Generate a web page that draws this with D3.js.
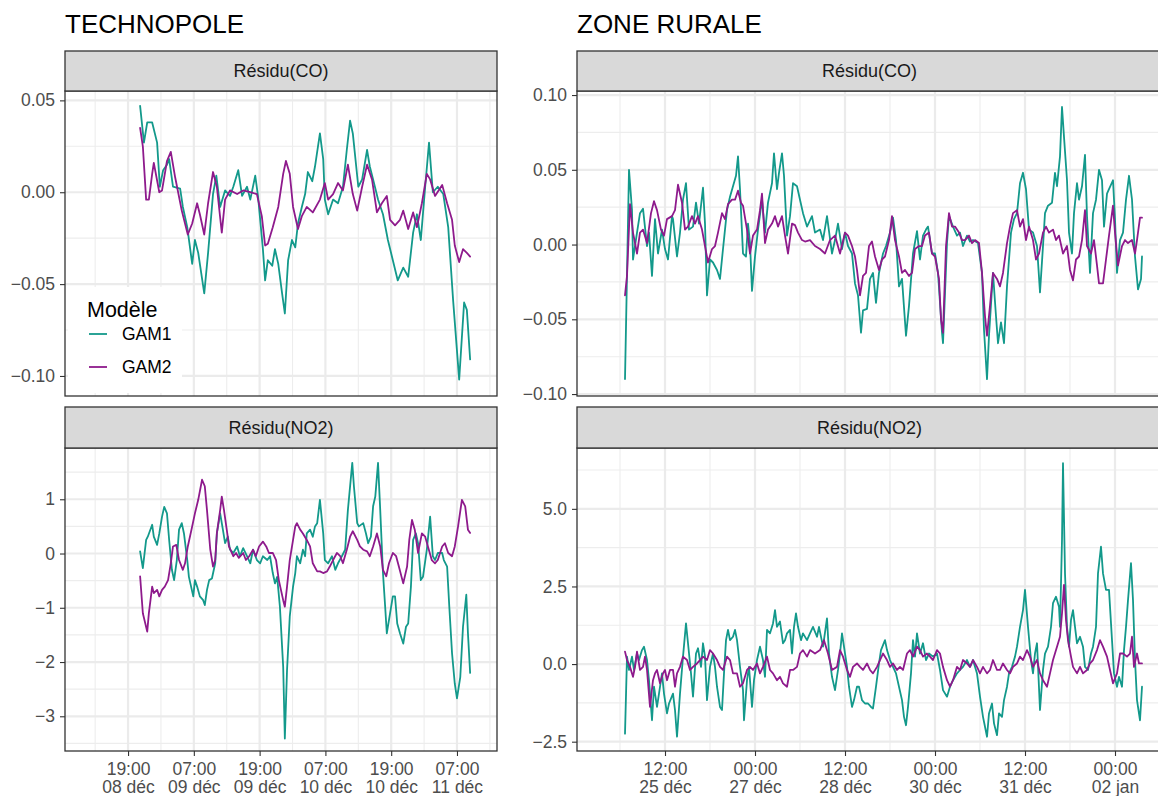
<!DOCTYPE html>
<html><head><meta charset="utf-8">
<script src="https://cdn.jsdelivr.net/npm/d3@7"></script>
<style>body{margin:0;background:#fff}svg{display:block}</style>
</head><body><svg id="chart"></svg>
<script>
// ---------------- DATA ----------------
const models = ["GAM1", "GAM2"];
const stripLabels = ["Résidu(CO)", "Résidu(NO2)"];
const siteTitles = ["TECHNOPOLE", "ZONE RURALE"];

// TECHNOPOLE : time in hours after techBase
const techBase = "2021-12-08T19:00";
const techDomain = ["2021-12-08T07:30", "2021-12-11T14:18"];
const techXTicks = ["2021-12-08T19:00","2021-12-09T07:00","2021-12-09T19:00","2021-12-10T07:00","2021-12-10T19:00","2021-12-11T07:00"];
const techXMinor = ["2021-12-08T13:00","2021-12-09T01:00","2021-12-09T13:00","2021-12-10T01:00","2021-12-10T13:00","2021-12-11T01:00","2021-12-11T13:00"];
const techXLab1 = ["19:00","07:00","19:00","07:00","19:00","07:00"];
const techXLab2 = ["08 déc","09 déc","09 déc","10 déc","10 déc","11 déc"];

const techCODomain = [-0.1109, 0.0551];
const techCOTicks = [-0.10, -0.05, 0.00, 0.05];
const techCOMinor = [-0.075, -0.025, 0.025];
const techNO2Domain = [-3.64, 1.945];
const techNO2Ticks = [-3, -2, -1, 0, 1];
const techNO2Minor = [-3.5, -2.5, -1.5, -0.5, 0.5, 1.5];

const techCO_g1_t = [2.2,2.9,3.5,4.4,5.3,5.8,6.4,7.1,7.5,8.2,9.5,10.0,10.8,11.7,12.2,12.8,13.9,14.6,15.5,16.1,16.8,17.7,18.6,19.2,20.1,20.8,21.7,22.3,23.2,23.7,24.6,25.0,25.5,26.3,26.8,27.4,28.1,28.6,29.2,29.9,30.5,31.0,31.7,32.3,32.8,33.6,34.1,35.0,35.6,35.9,36.5,37.4,38.3,39.2,39.9,40.5,41.0,42.0,42.7,43.6,44.1,44.7,45.6,46.5,47.4,48.3,49.2,50.2,51.1,52.0,52.7,53.4,54.2,54.9,55.6,56.5,57.5,58.4,59.3,60.4,61.3,61.8,62.4];
const techCO_g1 = [0.047,0.027,0.038,0.038,0.027,0.003,0.012,0.015,0.018,0.003,0.002,-0.008,-0.019,-0.039,-0.026,-0.033,-0.055,-0.033,-0.001,0.009,-0.008,0.001,-0.002,0.003,0.012,-0.002,0.003,-0.004,0.009,-0.002,-0.031,-0.048,-0.037,-0.040,-0.031,-0.039,-0.055,-0.066,-0.037,-0.026,-0.030,-0.017,-0.008,-0.001,0.011,0.006,0.014,0.032,0.018,-0.004,-0.012,-0.004,-0.006,0.003,0.023,0.039,0.032,0.003,0.007,0.023,0.014,0.007,-0.004,-0.012,-0.026,-0.037,-0.048,-0.041,-0.046,-0.022,-0.012,-0.026,0.003,0.027,0.000,0.003,-0.001,-0.019,-0.059,-0.102,-0.060,-0.064,-0.091];
const techCO_g2_t = [2.2,2.7,3.3,3.8,4.4,4.7,5.7,6.2,7.1,7.8,8.6,9.8,10.9,11.7,12.6,13.1,13.9,14.6,15.5,16.2,17.1,17.7,18.6,19.9,21.0,22.3,23.5,24.4,25.0,25.5,26.4,27.4,28.3,28.8,29.5,30.1,31.0,31.7,32.6,33.7,35.0,35.9,36.5,37.4,38.3,39.2,40.1,41.0,41.8,42.7,43.6,44.5,45.4,46.3,47.2,47.8,48.7,49.6,50.2,51.1,52.0,52.7,53.6,54.5,55.1,56.0,57.3,58.2,59.1,59.6,60.4,61.1,61.8,62.4];
const techCO_g2 = [0.035,0.025,-0.004,-0.004,0.010,0.016,0.000,0.001,0.017,0.022,0.008,-0.010,-0.023,-0.017,-0.006,-0.012,-0.023,-0.006,0.011,0.003,-0.022,-0.004,0.001,-0.001,0.001,0.000,-0.001,-0.013,-0.029,-0.028,-0.019,-0.008,0.010,0.017,0.010,-0.008,-0.020,-0.013,-0.008,-0.011,-0.004,0.005,-0.004,-0.001,0.005,0.001,0.015,-0.001,-0.010,0.003,0.015,0.007,-0.011,-0.006,-0.002,-0.015,-0.018,-0.015,-0.010,-0.020,-0.011,-0.019,-0.006,0.010,0.007,-0.002,0.004,-0.006,-0.015,-0.029,-0.038,-0.031,-0.033,-0.035];

const techNO2_g1_t = [2.2,2.7,3.3,3.6,4.4,4.7,5.3,5.7,6.2,6.6,7.1,7.5,8.0,8.4,8.9,9.3,9.8,10.2,10.8,11.1,11.9,12.2,12.6,13.1,13.7,14.0,14.4,14.8,15.3,15.9,16.2,16.8,17.3,17.7,18.2,18.6,19.2,19.9,20.4,21.0,21.7,22.3,22.8,23.5,24.1,24.6,25.4,25.9,26.4,26.8,27.2,27.7,28.3,28.6,29.0,29.5,30.1,30.5,30.8,31.4,31.9,32.3,32.6,33.2,33.7,34.1,34.5,35.0,35.6,35.9,36.5,37.2,37.8,38.3,39.0,39.6,40.1,40.9,41.2,41.8,42.1,42.9,43.4,43.8,44.3,44.7,45.1,45.6,46.0,46.5,46.9,47.2,47.8,48.3,48.7,49.1,49.6,50.2,50.7,51.1,51.6,52.0,52.5,52.9,53.4,53.8,54.5,55.1,55.6,56.0,56.5,57.3,57.6,58.2,58.6,59.1,59.6,60.0,60.6,61.1,61.7,62.0,62.4];
const techNO2_g1 = [0.04,-0.27,0.25,0.31,0.53,0.31,0.16,0.37,0.68,0.86,0.74,0.25,-0.30,-0.49,-0.12,0.44,0.56,0.37,-0.12,-0.43,-0.79,-0.49,-0.61,-0.79,-0.86,-0.95,-0.67,-0.49,-0.46,-0.18,0.37,0.74,0.44,0.19,0.31,0.07,0.01,0.13,-0.05,0.10,-0.05,-0.18,0.07,-0.12,-0.18,-0.05,-0.12,-0.05,-0.36,-0.55,-0.43,-0.98,-2.09,-3.41,-2.15,-1.16,-0.61,-0.36,-0.05,-0.18,0.07,-0.05,0.37,0.44,0.31,0.50,0.56,0.99,0.37,-0.12,-0.18,-0.05,-0.30,-0.18,-0.05,0.07,0.80,1.67,1.24,0.56,0.50,0.56,0.37,0.19,0.31,0.87,1.05,1.67,0.80,-0.36,-0.98,-1.47,-1.10,-0.79,-0.79,-1.29,-1.47,-1.66,-1.35,-1.29,-0.61,0.25,0.37,0.19,-0.49,-0.43,0.07,0.68,-0.05,-0.12,0.01,0.01,-0.12,-0.24,-0.98,-1.84,-2.40,-2.67,-2.28,-1.35,-0.76,-1.47,-2.20];
const techNO2_g2_t = [2.2,2.7,3.5,3.8,4.4,4.7,5.3,5.7,6.2,6.7,7.3,7.8,8.2,8.8,9.3,10.0,10.4,10.9,11.7,12.2,12.8,13.5,14.0,14.4,15.0,15.5,15.9,16.2,16.8,17.1,17.5,18.1,18.4,19.2,19.7,20.2,21.0,21.5,22.1,22.8,23.3,23.9,24.6,25.2,25.7,26.4,27.0,27.5,28.3,28.6,29.0,29.5,30.1,30.5,30.8,31.4,31.9,32.6,33.2,33.7,34.5,35.0,35.6,36.3,36.8,37.4,38.1,38.7,39.2,39.9,40.5,41.0,41.8,42.3,42.9,43.6,44.1,44.7,45.4,46.0,46.5,47.1,47.6,48.3,48.9,49.4,50.2,50.9,51.3,51.8,52.3,52.9,53.6,54.2,54.7,55.4,56.0,56.5,57.3,57.8,58.4,59.1,59.6,60.2,60.9,61.5,62.0,62.4];
const techNO2_g2 = [-0.42,-1.10,-1.44,-1.10,-0.61,-0.73,-0.67,-0.79,-0.67,-0.61,-0.49,-0.18,0.13,0.16,-0.12,-0.30,-0.18,0.13,0.50,0.74,0.99,1.36,1.24,0.80,0.07,-0.24,-0.12,0.37,0.80,1.05,0.80,0.37,0.13,-0.05,0.01,-0.08,0.01,-0.12,-0.05,0.07,-0.05,0.13,0.22,0.13,0.01,0.01,-0.12,-0.49,-0.86,-0.98,-0.61,-0.12,0.25,0.50,0.56,0.44,0.37,0.25,0.13,-0.18,-0.33,-0.33,-0.36,-0.33,-0.24,-0.12,0.01,-0.05,-0.18,0.07,0.31,0.41,0.25,0.13,0.07,0.04,-0.05,0.13,0.37,0.13,-0.30,-0.42,-0.18,0.01,-0.05,-0.24,-0.55,-0.24,0.25,0.62,0.44,0.01,0.37,0.31,0.13,-0.12,-0.18,-0.12,0.13,0.19,0.01,-0.05,0.13,0.50,0.99,0.87,0.44,0.38];

// ZONE RURALE : time in hours after rurBase
const rurBase = "2021-12-25T12:00";
const rurDomain = ["2021-12-24T00:48", "2022-01-02T18:48"];
const rurXTicks = ["2021-12-25T12:00","2021-12-27T00:00","2021-12-28T12:00","2021-12-30T00:00","2021-12-31T12:00","2022-01-02T00:00"];
const rurXMinor = ["2021-12-24T18:00","2021-12-26T06:00","2021-12-27T18:00","2021-12-29T06:00","2021-12-30T18:00","2022-01-01T06:00","2022-01-02T18:00"];
const rurXLab1 = ["12:00","00:00","12:00","00:00","12:00","00:00"];
const rurXLab2 = ["25 déc","27 déc","28 déc","30 déc","31 déc","02 jan"];

const rurCODomain = [-0.1013, 0.1027];
const rurCOTicks = [-0.10, -0.05, 0.00, 0.05, 0.10];
const rurCOMinor = [-0.075, -0.025, 0.025, 0.075];
const rurNO2Domain = [-2.80, 6.96];
const rurNO2Ticks = [-2.5, 0, 2.5, 5.0];
const rurNO2Minor = [-1.25, 1.25, 3.75, 6.25];

const rurCO_g1_t = [-16.0,-14.4,-13.2,-12.8,-11.2,-10.0,-8.8,-7.2,-6.4,-5.2,-4.0,-2.8,-1.2,0.0,1.2,2.8,3.2,4.8,6.0,7.2,8.4,9.6,11.2,12.4,13.6,15.2,16.0,16.8,18.0,19.2,20.8,22.0,23.2,24.8,26.0,27.2,28.4,29.2,30.0,31.2,32.4,33.2,34.0,34.8,36.0,37.2,38.8,40.0,41.2,42.8,43.6,44.8,45.6,46.8,47.6,48.8,50.0,51.2,52.8,54.0,55.2,56.8,58.8,60.0,62.0,63.2,64.8,66.8,68.0,69.2,70.8,72.0,73.2,74.8,76.0,77.2,78.4,79.2,80.8,82.0,83.2,84.4,85.6,87.2,88.4,90.0,91.2,92.4,93.6,94.8,96.4,97.6,99.2,100.8,102.0,103.2,104.4,105.2,106.8,108.0,109.2,110.8,111.2,112.8,113.6,115.2,116.8,118.0,119.2,120.8,122.0,123.2,125.2,126.8,127.6,128.8,129.6,131.2,132.4,133.2,134.4,135.6,136.8,138.4,139.6,140.8,142.0,143.2,144.4,145.6,147.2,148.8,150.0,151.2,152.0,153.2,154.8,156.0,156.8,158.0,158.8,159.6,160.8,161.6,162.8,163.6,164.8,165.6,166.8,168.0,168.8,170.0,171.2,172.4,173.6,174.8,175.6,176.8,177.6,179.2,180.0,180.8,182.0,183.2,184.4,185.6,186.8,188.0,189.2,190.4,190.8];
const rurCO_g1 = [-0.090,0.050,0.023,-0.010,0.008,0.021,0.024,-0.001,0.008,-0.021,0.017,-0.006,0.010,-0.003,-0.010,0.019,0.017,-0.008,0.008,0.030,0.041,0.010,0.012,0.028,0.014,0.038,0.014,-0.034,-0.010,-0.012,-0.017,-0.023,-0.003,0.023,0.032,0.039,0.046,0.059,0.037,-0.006,-0.008,0.014,0.001,-0.031,-0.008,0.010,0.030,0.008,0.028,0.041,0.061,0.037,0.048,0.061,0.046,0.006,0.019,0.041,0.039,0.030,0.021,0.012,0.019,0.008,0.010,0.003,0.019,-0.006,0.003,0.014,-0.003,0.008,-0.001,-0.006,-0.026,-0.034,-0.059,-0.044,-0.043,-0.023,-0.019,-0.039,-0.019,-0.006,-0.001,0.008,0.018,0.003,-0.028,-0.023,-0.061,-0.041,-0.006,0.009,-0.010,0.006,0.010,0.012,-0.006,-0.006,-0.019,-0.059,-0.066,0.001,0.019,0.012,0.006,0.008,-0.001,0.006,0.002,0.003,0.001,-0.019,-0.057,-0.090,-0.061,-0.019,-0.048,-0.066,-0.052,-0.066,-0.028,0.008,0.017,0.021,0.041,0.048,0.037,0.010,0.008,-0.001,-0.032,-0.001,0.021,0.026,0.028,0.048,0.039,0.059,0.092,0.072,0.043,0.008,-0.006,0.021,0.041,0.030,0.039,0.060,0.019,-0.019,0.021,0.030,0.050,0.043,0.012,0.034,0.037,0.043,0.017,-0.019,0.003,0.008,0.030,0.046,0.030,-0.008,-0.030,-0.023,-0.008];
const rurCO_g2_t = [-16.0,-15.2,-14.0,-12.8,-11.2,-10.0,-8.8,-7.2,-5.6,-4.4,-3.2,-1.6,-0.4,0.8,2.8,4.0,5.2,6.8,8.0,9.2,10.8,12.0,13.2,14.8,16.0,17.2,18.8,20.0,21.2,22.8,24.0,25.2,26.8,28.0,29.2,30.4,31.2,32.8,34.0,35.2,36.8,38.0,38.8,40.0,41.2,42.8,44.0,45.2,46.8,48.0,49.2,50.8,52.0,53.2,54.8,56.0,58.0,60.0,62.0,64.0,66.0,68.0,70.0,72.0,73.2,74.8,76.0,76.8,78.0,79.2,80.4,81.6,82.8,84.0,85.6,86.8,88.0,89.6,90.8,92.0,93.6,94.8,96.0,97.6,98.8,100.0,101.6,102.8,104.0,105.6,106.8,108.0,109.6,110.4,111.2,112.4,113.6,114.8,116.0,117.6,118.8,120.0,121.6,122.8,124.0,125.6,126.8,128.0,128.8,130.0,131.2,132.8,134.0,135.2,136.8,138.0,139.2,140.8,142.0,143.2,144.4,145.6,147.2,148.4,149.6,151.2,152.4,153.6,155.2,156.4,157.6,159.2,160.8,162.0,163.2,164.4,165.6,166.8,168.0,168.8,170.4,171.6,172.8,173.6,175.2,176.4,177.6,179.2,180.0,181.2,182.8,184.0,185.2,186.8,188.0,188.8,190.0,190.8];
const rurCO_g2 = [-0.034,-0.021,0.027,0.008,-0.006,0.008,0.010,0.001,0.021,0.029,0.023,0.010,0.006,0.017,0.019,0.023,0.040,0.028,0.010,0.012,0.019,0.014,0.019,0.010,-0.001,-0.012,-0.003,-0.001,0.008,0.021,0.017,0.027,0.030,0.030,0.036,0.028,0.026,0.010,-0.006,0.006,0.010,0.023,0.034,0.001,0.010,0.014,0.019,0.012,0.019,0.006,-0.006,0.014,0.013,0.008,0.003,0.002,0.003,-0.001,-0.003,-0.006,0.003,0.006,-0.006,0.008,0.006,-0.001,-0.008,-0.017,-0.034,-0.021,-0.019,-0.001,0.002,-0.008,-0.017,-0.010,-0.008,0.003,0.019,0.003,-0.008,-0.019,-0.017,-0.021,-0.019,-0.003,-0.001,-0.001,0.006,0.008,-0.006,-0.008,-0.023,-0.050,-0.059,-0.001,0.021,0.012,0.012,0.008,0.003,0.003,0.006,0.001,0.003,0.001,-0.019,-0.048,-0.061,-0.041,-0.019,-0.023,-0.028,-0.019,0.001,0.012,0.021,0.023,0.012,0.017,0.003,0.012,0.003,-0.010,-0.006,0.008,0.012,0.008,0.010,0.003,0.006,-0.006,-0.001,-0.017,-0.024,-0.010,-0.008,0.003,0.023,-0.001,-0.006,0.003,-0.014,-0.026,-0.026,-0.010,0.006,0.026,0.008,-0.014,-0.001,0.003,0.001,0.003,-0.006,0.003,0.018,0.018];

const rurNO2_g1_t = [-16.0,-15.2,-14.4,-13.2,-12.4,-11.2,-10.4,-9.2,-8.4,-7.2,-6.4,-5.2,-4.4,-3.2,-2.4,-1.2,-0.4,0.8,1.6,3.2,4.0,4.8,6.0,7.2,8.4,9.2,10.4,11.2,12.4,13.2,14.4,15.2,16.0,16.8,18.0,19.2,20.0,20.8,22.0,22.8,23.6,24.4,25.2,26.0,27.2,28.0,28.8,30.0,31.2,31.6,32.8,33.6,34.8,35.6,36.8,38.0,39.2,40.0,40.8,42.0,43.2,44.0,44.8,46.0,47.2,48.0,48.8,50.0,50.8,51.6,52.4,53.2,54.4,55.2,56.8,58.0,59.2,60.8,61.6,63.2,64.8,65.6,66.8,68.0,69.2,70.0,70.8,71.6,72.8,73.6,74.8,75.6,76.8,77.6,78.8,80.0,81.2,82.4,83.2,84.4,85.6,86.4,88.0,88.8,90.0,91.2,92.4,93.6,94.8,95.6,96.4,97.2,98.4,99.2,100.0,100.8,102.0,103.2,104.4,105.6,107.2,108.8,110.0,111.2,112.8,114.0,115.2,116.8,118.0,119.2,120.8,122.0,123.2,124.8,126.0,127.2,128.0,128.8,129.6,130.8,131.6,132.8,133.6,134.8,135.6,136.8,137.6,138.8,140.0,140.8,142.0,143.2,144.0,145.2,146.4,147.2,148.0,148.8,150.0,151.2,152.0,153.2,154.4,155.2,156.4,157.6,158.0,158.8,159.2,160.0,160.8,161.6,162.4,163.2,164.0,164.8,166.0,167.2,168.0,169.2,170.4,171.2,172.4,173.2,174.4,175.2,176.4,177.6,178.8,179.6,180.8,181.6,182.8,183.6,184.4,185.2,186.4,187.2,188.0,188.8,190.0,190.8];
const rurNO2_g1 = [-2.24,0.24,-0.19,0.24,-0.19,0.34,0.13,0.45,0.56,0.13,-0.52,-1.81,-0.73,-1.38,-0.95,-0.30,-0.95,-1.59,-1.27,-0.95,-1.48,-2.34,-0.95,0.24,1.31,0.67,-0.30,-1.05,0.34,0.51,-0.09,0.67,0.24,-1.16,-0.09,0.34,-0.09,-0.73,-1.38,-1.48,-0.30,0.77,1.10,0.77,0.88,1.10,0.77,-0.09,-0.84,-1.81,-0.52,-0.09,-1.38,-0.52,0.13,0.56,0.13,-0.41,1.10,0.99,1.31,1.74,1.20,1.37,0.67,0.77,0.99,1.10,0.34,1.20,1.63,1.20,0.77,0.99,0.77,0.99,1.20,0.88,1.20,0.56,1.47,0.34,-0.41,-0.84,-0.19,0.34,0.99,0.56,-0.09,-0.73,-1.38,-1.16,-0.73,-0.73,-1.16,-1.27,-1.27,-1.38,-1.43,-0.73,0.02,0.45,0.77,0.45,0.13,-0.09,-0.30,-0.73,-1.16,-1.70,-1.97,-1.38,-0.30,0.77,0.24,0.99,0.34,0.67,0.13,0.34,0.24,0.34,-0.19,-0.84,-1.05,-0.73,-0.52,-0.30,-0.19,-0.09,0.13,-0.09,0.13,-0.30,-1.05,-1.70,-2.02,-2.34,-1.59,-1.27,-1.91,-2.29,-1.59,-1.70,-1.16,-0.73,-0.30,-0.09,0.24,0.56,1.20,1.74,2.39,1.20,0.13,-0.30,0.34,0.67,-1.48,-0.19,0.34,0.56,1.20,1.96,2.17,1.85,1.20,4.00,6.47,2.92,1.20,0.56,1.42,1.74,1.20,0.67,0.88,0.56,-0.09,-0.19,0.34,0.56,1.20,2.92,3.78,2.92,2.39,2.39,0.77,-0.30,-0.73,-0.41,-0.73,0.45,1.20,2.06,3.25,2.06,0.13,-1.16,-1.81,-0.73];
const rurNO2_g2_t = [-16.0,-15.2,-14.0,-12.8,-12.0,-11.2,-10.0,-8.8,-8.0,-7.2,-6.0,-4.8,-4.0,-3.2,-2.0,-0.8,0.0,0.8,2.0,3.2,4.0,4.8,6.0,7.2,8.8,10.0,11.2,12.8,14.0,15.2,16.8,18.0,19.2,20.8,22.0,23.2,24.8,26.0,27.2,28.8,30.0,31.2,32.8,34.0,35.2,36.8,38.0,39.2,40.8,42.0,43.2,44.8,46.0,47.2,48.8,50.0,51.2,52.8,54.0,55.2,56.8,58.0,60.0,62.0,63.6,65.2,66.8,68.8,70.0,71.2,72.8,74.0,75.2,76.8,78.0,79.2,80.8,82.0,83.2,84.8,86.0,87.2,88.8,90.0,91.2,92.8,94.0,95.2,96.8,98.0,99.2,100.8,102.0,103.2,104.8,106.0,107.2,108.8,110.0,111.2,112.8,114.0,115.2,116.8,118.0,119.2,120.8,122.0,123.2,124.8,126.0,127.2,128.8,130.0,131.2,132.8,134.0,135.2,136.8,138.0,139.2,140.8,142.0,143.2,144.8,146.0,147.2,148.8,150.0,151.2,152.8,154.0,155.2,156.8,158.0,158.8,159.6,160.4,161.2,162.4,163.2,164.8,166.0,167.2,168.8,170.0,171.2,172.8,174.0,175.2,176.8,178.0,179.2,180.8,182.0,183.2,184.8,186.0,186.8,187.6,188.8,189.6,190.8];
const rurNO2_g2 = [0.40,0.13,-0.09,-0.41,-0.09,0.40,-0.19,-0.09,0.24,-0.19,-1.38,-0.52,-0.30,-0.19,-0.62,-0.30,-0.19,-0.52,-0.19,-0.19,-0.73,-0.30,-0.09,0.24,0.13,-0.19,-0.09,0.02,0.13,0.24,0.13,0.45,0.34,0.13,-0.09,-0.19,0.24,0.13,-0.30,-0.30,-0.73,-0.62,-0.19,-0.09,-0.19,0.02,-0.30,-0.09,0.24,-0.19,-0.30,-0.52,-0.41,-0.62,-0.73,-0.19,-0.19,-0.09,0.34,0.45,0.24,0.45,0.34,0.45,0.77,0.34,-0.19,-0.09,0.45,0.24,-0.19,-0.41,-0.09,0.02,-0.09,-0.19,0.02,-0.19,-0.30,-0.09,0.13,0.34,0.13,-0.09,0.02,-0.19,-0.09,-0.19,0.34,0.45,0.24,0.56,0.45,0.24,0.34,0.24,0.13,0.45,0.34,-0.09,-0.52,-0.73,-0.52,-0.09,-0.19,0.13,0.02,-0.09,0.13,-0.09,-0.30,-0.09,-0.30,-0.19,0.13,-0.19,-0.19,0.02,-0.19,-0.30,-0.09,0.02,0.24,0.13,0.45,0.24,-0.09,0.13,-0.30,-0.52,-0.73,-0.30,0.13,0.56,0.88,1.63,2.55,1.42,0.77,0.24,-0.09,-0.30,-0.09,-0.30,-0.19,0.02,0.13,0.45,0.77,0.56,0.24,-0.19,-0.62,-0.30,0.34,0.34,0.24,0.34,0.88,-0.09,0.34,0.02,0.02];

// ---------------- DRAWING ----------------
const FONT = '"Liberation Sans", Arial, Helvetica, sans-serif';
const COLORS = {GAM1: "#13998b", GAM2: "#8e1a8c"};
const W = 1158, H = 796;
const svg = d3.select("#chart").attr("width", W).attr("height", H).style("font-family", FONT);
svg.append("rect").attr("width", W).attr("height", H).attr("fill", "#fff");

const parseT = d3.utcParse("%Y-%m-%dT%H:%M");
function toSeries(base, ts, vs) {
  const b = parseT(base).getTime();
  return d3.range(Math.min(ts.length, vs.length)).map(i => ({t: new Date(b + ts[i] * 3600e3), v: vs[i]}));
}

const cols = {tech: {x0: 65, x1: 497, tx: 65}, rur: {x0: 577, x1: 1162, tx: 577}};
const rows = {CO: {s0: 51, y0: 91, y1: 396}, NO2: {s0: 407, y0: 448, y1: 751}};

const panels = [
  {col: "tech", row: "CO", strip: stripLabels[0], base: techBase, xDomain: techDomain, yDomain: techCODomain, yTicks: techCOTicks, yMinor: techCOMinor, fmt: d3.format(".2f"),
   s: [[techCO_g1_t, techCO_g1], [techCO_g2_t, techCO_g2]], xTicks: techXTicks, xMinor: techXMinor, lab: [techXLab1, techXLab2], showX: false, legend: true},
  {col: "tech", row: "NO2", strip: stripLabels[1], base: techBase, xDomain: techDomain, yDomain: techNO2Domain, yTicks: techNO2Ticks, yMinor: techNO2Minor, fmt: d3.format("d"),
   s: [[techNO2_g1_t, techNO2_g1], [techNO2_g2_t, techNO2_g2]], xTicks: techXTicks, xMinor: techXMinor, lab: [techXLab1, techXLab2], showX: true},
  {col: "rur", row: "CO", strip: stripLabels[0], base: rurBase, xDomain: rurDomain, yDomain: rurCODomain, yTicks: rurCOTicks, yMinor: rurCOMinor, fmt: d3.format(".2f"),
   s: [[rurCO_g1_t, rurCO_g1], [rurCO_g2_t, rurCO_g2]], xTicks: rurXTicks, xMinor: rurXMinor, lab: [rurXLab1, rurXLab2], showX: false},
  {col: "rur", row: "NO2", strip: stripLabels[1], base: rurBase, xDomain: rurDomain, yDomain: rurNO2Domain, yTicks: rurNO2Ticks, yMinor: rurNO2Minor, fmt: d3.format(".1f"),
   s: [[rurNO2_g1_t, rurNO2_g1], [rurNO2_g2_t, rurNO2_g2]], xTicks: rurXTicks, xMinor: rurXMinor, lab: [rurXLab1, rurXLab2], showX: true}
];

const defs = svg.append("defs");

panels.forEach((p, i) => {
  const C = cols[p.col], R = rows[p.row];
  const x = d3.scaleUtc().domain(p.xDomain.map(parseT)).range([C.x0, C.x1]);
  const y = d3.scaleLinear().domain(p.yDomain).range([R.y1, R.y0]);
  const g = svg.append("g");
  const clipId = "clip" + i;
  defs.append("clipPath").attr("id", clipId).append("rect")
    .attr("x", C.x0).attr("y", R.y0).attr("width", C.x1 - C.x0).attr("height", R.y1 - R.y0);
  const inner = g.append("g").attr("clip-path", `url(#${clipId})`);

  // minor grid
  inner.selectAll("line.hmin").data(p.yMinor).join("line").attr("class", "hmin")
    .attr("x1", C.x0).attr("x2", C.x1).attr("y1", d => y(d)).attr("y2", d => y(d))
    .attr("stroke", "#EDEDED").attr("stroke-width", 1.1);
  inner.selectAll("line.vmin").data(p.xMinor.map(parseT)).join("line").attr("class", "vmin")
    .attr("y1", R.y0).attr("y2", R.y1).attr("x1", d => x(d)).attr("x2", d => x(d))
    .attr("stroke", "#EDEDED").attr("stroke-width", 1.1);
  // major grid
  inner.selectAll("line.hmaj").data(p.yTicks).join("line").attr("class", "hmaj")
    .attr("x1", C.x0).attr("x2", C.x1).attr("y1", d => y(d)).attr("y2", d => y(d))
    .attr("stroke", "#EBEBEB").attr("stroke-width", 2.2);
  inner.selectAll("line.vmaj").data(p.xTicks.map(parseT)).join("line").attr("class", "vmaj")
    .attr("y1", R.y0).attr("y2", R.y1).attr("x1", d => x(d)).attr("x2", d => x(d))
    .attr("stroke", "#EBEBEB").attr("stroke-width", 2.2);

  // series
  const line = d3.line().x(d => x(d.t)).y(d => y(d.v));
  p.s.forEach((s, k) => {
    inner.append("path").datum(toSeries(p.base, s[0], s[1]))
      .attr("d", line).attr("fill", "none").attr("stroke", COLORS[models[k]])
      .attr("stroke-width", 1.8).attr("stroke-linejoin", "round").attr("stroke-linecap", "round");
  });

  // legend
  if (p.legend) {
    const lg = g.append("g");
    lg.append("rect").attr("x", 68).attr("y", 287).attr("width", 114).attr("height", 106).attr("fill", "#fff");
    lg.append("text").attr("x", 87).attr("y", 317).attr("font-size", 21.5).attr("fill", "#000").text("Modèle");
    models.forEach((m, k) => {
      const cy = 334 + k * 33;
      lg.append("line").attr("x1", 89).attr("x2", 107).attr("y1", cy).attr("y2", cy)
        .attr("stroke", COLORS[m]).attr("stroke-width", 1.8);
      lg.append("text").attr("x", 122).attr("y", cy).attr("dy", "0.35em").attr("font-size", 17.5)
        .attr("fill", "#000").text(m);
    });
  }

  // panel border
  g.append("rect").attr("x", C.x0).attr("y", R.y0).attr("width", C.x1 - C.x0).attr("height", R.y1 - R.y0)
    .attr("fill", "none").attr("stroke", "#333").attr("stroke-width", 1.3);
  // strip
  g.append("rect").attr("x", C.x0).attr("y", R.s0).attr("width", C.x1 - C.x0).attr("height", R.y0 - R.s0)
    .attr("fill", "#D9D9D9").attr("stroke", "#333").attr("stroke-width", 1.3);
  g.append("text").attr("x", (C.x0 + C.x1) / 2).attr("y", (R.s0 + R.y0) / 2)
    .attr("dy", "0.36em").attr("text-anchor", "middle").attr("font-size", 18).attr("fill", "#1A1A1A").text(p.strip);

  // y axis
  const ya = g.append("g").attr("transform", `translate(${C.x0},0)`)
    .call(d3.axisLeft(y).tickValues(p.yTicks).tickFormat(p.fmt).tickSize(5).tickPadding(5));
  ya.select(".domain").remove();
  ya.attr("font-family", FONT).attr("font-size", 17.5);
  ya.selectAll(".tick line").attr("stroke", "#333").attr("stroke-width", 1.1);
  ya.selectAll(".tick text").attr("fill", "#4D4D4D");

  // x axis
  if (p.showX) {
    const xa = g.append("g").attr("transform", `translate(0,${R.y1})`)
      .call(d3.axisBottom(x).tickValues(p.xTicks.map(parseT)).tickSize(5).tickFormat(() => ""));
    xa.select(".domain").remove();
    xa.attr("font-family", FONT).attr("font-size", 17.5);
    xa.selectAll(".tick line").attr("stroke", "#333").attr("stroke-width", 1.1);
    xa.selectAll(".tick text").each(function(d, j) {
      const t = d3.select(this).attr("fill", "#4D4D4D").attr("dy", null).attr("y", null).text(null);
      t.append("tspan").attr("x", 0).attr("y", 24).text(p.lab[0][j]);
      t.append("tspan").attr("x", 0).attr("y", 42).text(p.lab[1][j]);
    });
  }
});

// site titles
svg.append("text").attr("x", cols.tech.tx).attr("y", 33).attr("font-size", 26).attr("fill", "#000").text(siteTitles[0]);
svg.append("text").attr("x", cols.rur.tx).attr("y", 33).attr("font-size", 26).attr("fill", "#000").text(siteTitles[1]);
</script>
</body></html>
